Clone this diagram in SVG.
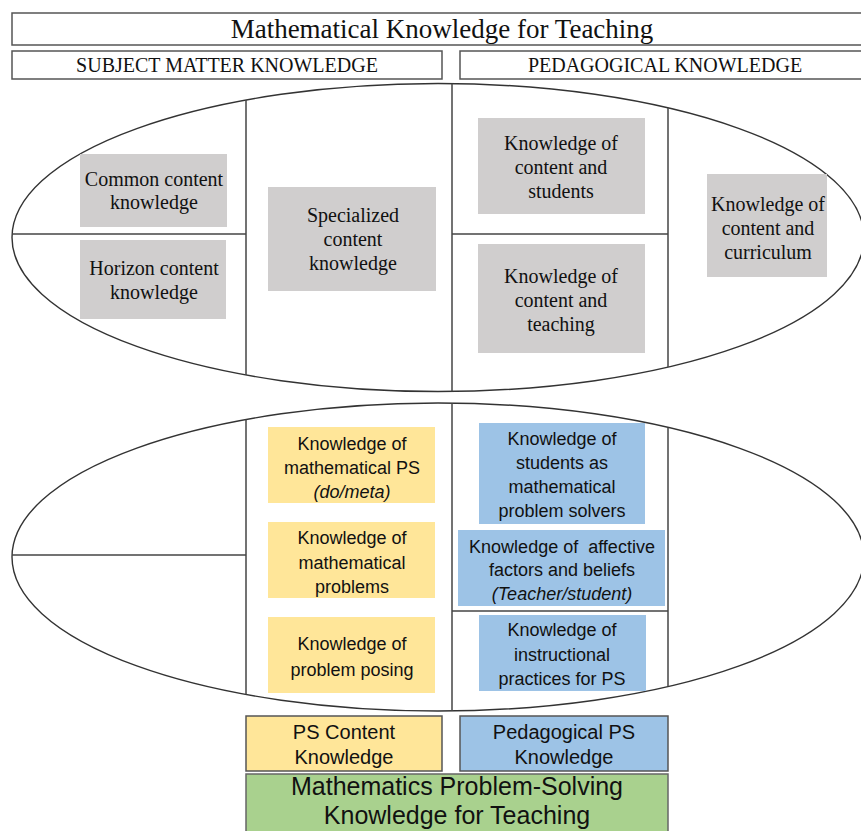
<svg xmlns="http://www.w3.org/2000/svg" width="861" height="831" viewBox="0 0 861 831">
<style>
.hdr{fill:#fff;stroke:#555;stroke-width:1.5}
.ell{fill:#fff;stroke:#333;stroke-width:1.4}
.div{stroke:#444;stroke-width:1.5;fill:none}
.gray{fill:#d0cece}
.yel{fill:#ffe699}
.blu{fill:#9dc3e6}
.grn{fill:#a9d18e;stroke:#666;stroke-width:1.5}
.yb{fill:#ffe699;stroke:#555;stroke-width:1.5}
.bb{fill:#9dc3e6;stroke:#555;stroke-width:1.5}
.serif{font-family:"Liberation Serif","Times New Roman",serif;fill:#111;text-anchor:middle}
.sans{font-family:"Liberation Sans",Arial,sans-serif;fill:#111;text-anchor:middle}
.s20{font-size:20px}
.s18{font-size:18px}
.it{font-style:italic}
</style>
<rect width="861" height="831" fill="#fff"/>

<g id="title">
<rect class="hdr" x="12" y="13" width="860" height="32"/>
<text class="serif" x="442" y="38" font-size="27">Mathematical Knowledge for Teaching</text>
</g>
<g id="smk-header">
<rect class="hdr" x="12" y="51" width="430" height="28"/>
<text class="serif s20" x="227" y="72">SUBJECT MATTER KNOWLEDGE</text>
</g>
<g id="pk-header">
<rect class="hdr" x="460" y="51" width="410" height="28"/>
<text class="serif s20" x="665" y="72">PEDAGOGICAL KNOWLEDGE</text>
</g>

<g id="ellipses">
<ellipse class="ell" cx="438" cy="237.5" rx="426" ry="154"/>
<ellipse class="ell" cx="438" cy="557" rx="426" ry="154"/>
</g>

<g id="connectors">
<line class="div" x1="452" y1="83.5" x2="452" y2="391.5"/>
<line class="div" x1="246" y1="100" x2="246" y2="375"/>
<line class="div" x1="668" y1="108" x2="668" y2="367"/>
<line class="div" x1="12" y1="234" x2="246" y2="234"/>
<line class="div" x1="452" y1="234" x2="668" y2="234"/>
<line class="div" x1="452" y1="403" x2="452" y2="711"/>
<line class="div" x1="246" y1="419.5" x2="246" y2="694.5"/>
<line class="div" x1="668" y1="427.5" x2="668" y2="686.5"/>
<line class="div" x1="12" y1="555" x2="246" y2="555"/>
<line class="div" x1="452" y1="611" x2="668" y2="611"/>
</g>

<g id="common-content">
<rect class="gray" x="80" y="154" width="147" height="73"/>
<text class="serif s20" x="154" y="185.5">Common content</text>
<text class="serif s20" x="154" y="208.5">knowledge</text>
</g>
<g id="horizon-content">
<rect class="gray" x="80" y="240" width="146" height="79"/>
<text class="serif s20" x="154" y="274.5">Horizon content</text>
<text class="serif s20" x="154" y="298.5">knowledge</text>
</g>
<g id="specialized-content">
<rect class="gray" x="268" y="187" width="168" height="104"/>
<text class="serif s20" x="353" y="221.5">Specialized</text>
<text class="serif s20" x="353" y="245.5">content</text>
<text class="serif s20" x="353" y="269.5">knowledge</text>
</g>
<g id="kcs">
<rect class="gray" x="478" y="118" width="167" height="96"/>
<text class="serif s20" x="561" y="149.5">Knowledge of</text>
<text class="serif s20" x="561" y="173.5">content and</text>
<text class="serif s20" x="561" y="198">students</text>
</g>
<g id="kct">
<rect class="gray" x="478" y="244" width="167" height="109"/>
<text class="serif s20" x="561" y="282.5">Knowledge of</text>
<text class="serif s20" x="561" y="306.5">content and</text>
<text class="serif s20" x="561" y="330.5">teaching</text>
</g>
<g id="kcc">
<rect class="gray" x="707" y="174" width="120" height="103"/>
<text class="serif s20" x="768" y="210.5">Knowledge of</text>
<text class="serif s20" x="768" y="234.5">content and</text>
<text class="serif s20" x="768" y="258.5">curriculum</text>
</g>

<g id="k-math-ps">
<rect class="yel" x="268" y="427" width="167" height="76"/>
<text class="sans s18" x="352" y="449.5">Knowledge of</text>
<text class="sans s18" x="352" y="473.5">mathematical PS</text>
<text class="sans s18 it" x="352" y="497.5">(do/meta)</text>
</g>
<g id="k-math-problems">
<rect class="yel" x="268" y="522" width="167" height="76"/>
<text class="sans s18" x="352" y="543.5">Knowledge of</text>
<text class="sans s18" x="352" y="568.5">mathematical</text>
<text class="sans s18" x="352" y="592.5">problems</text>
</g>
<g id="k-problem-posing">
<rect class="yel" x="268" y="617" width="167" height="76"/>
<text class="sans s18" x="352" y="649.5">Knowledge of</text>
<text class="sans s18" x="352" y="675.5">problem posing</text>
</g>

<g id="k-students-ps">
<rect class="blu" x="479" y="423" width="166" height="101"/>
<text class="sans s18" x="562" y="444.5">Knowledge of</text>
<text class="sans s18" x="562" y="468.5">students as</text>
<text class="sans s18" x="562" y="492.5">mathematical</text>
<text class="sans s18" x="562" y="516.5">problem solvers</text>
</g>
<g id="k-affective">
<rect class="blu" x="458" y="530" width="207" height="76"/>
<text class="sans s18" x="562" y="552.5" xml:space="preserve">Knowledge of  affective</text>
<text class="sans s18" x="562" y="575.5">factors and beliefs</text>
<text class="sans s18 it" x="562" y="599.5">(Teacher/student)</text>
</g>
<g id="k-instructional">
<rect class="blu" x="479" y="615" width="167" height="76"/>
<text class="sans s18" x="562" y="635.5">Knowledge of</text>
<text class="sans s18" x="562" y="660.5">instructional</text>
<text class="sans s18" x="562" y="684.5">practices for PS</text>
</g>

<g id="ps-content-knowledge">
<rect class="yb" x="246" y="716" width="196" height="55"/>
<text class="sans s20" x="344" y="739">PS Content</text>
<text class="sans s20" x="344" y="764">Knowledge</text>
</g>
<g id="pedagogical-ps-knowledge">
<rect class="bb" x="460" y="716" width="208" height="55"/>
<text class="sans s20" x="564" y="739">Pedagogical PS</text>
<text class="sans s20" x="564" y="764">Knowledge</text>
</g>
<g id="mpskt">
<rect class="grn" x="246" y="774" width="422" height="70"/>
<text class="sans" x="457" y="795" font-size="25">Mathematics Problem-Solving</text>
<text class="sans" x="457" y="824" font-size="25">Knowledge for Teaching</text>
</g>
</svg>
